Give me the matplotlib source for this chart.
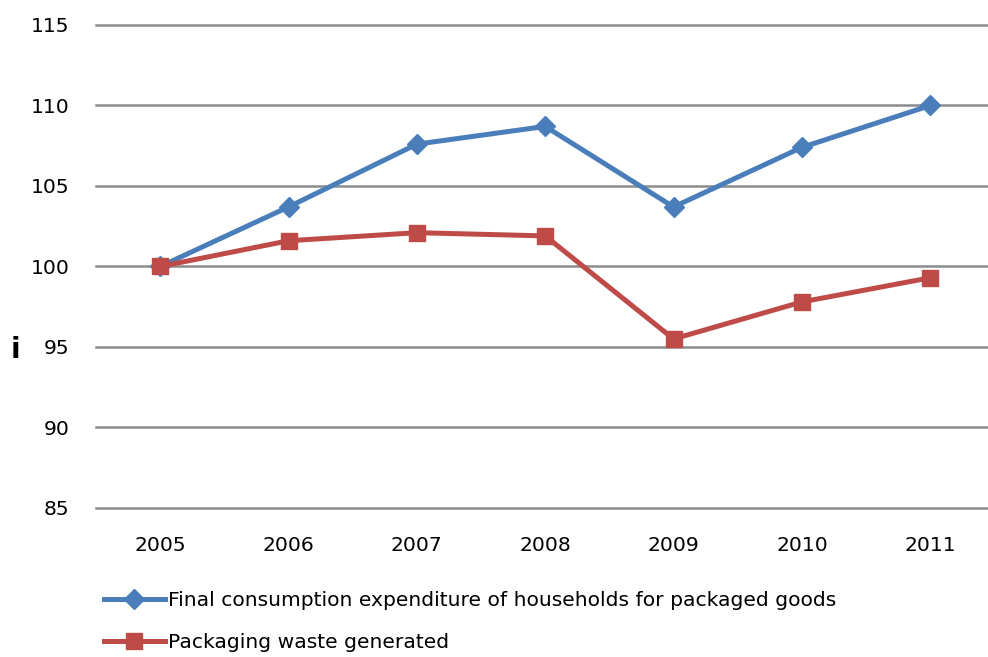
import matplotlib
matplotlib.use("Agg")
from matplotlib import pyplot as plt
from matplotlib.lines import Line2D

years = ["2005", "2006", "2007", "2008", "2009", "2010", "2011"]
consumption = [100.0, 103.7, 107.6, 108.7, 103.7, 107.4, 110.0]
packaging = [100.0, 101.6, 102.1, 101.9, 95.5, 97.8, 99.3]
y_ticks = [85, 90, 95, 100, 105, 110, 115]
label_cons = "Final consumption expenditure of households for packaged goods"
label_pack = "Packaging waste generated"

blue = "#4A7EBB"
red = "#BE4B48"
grid_col = "#8C8C8C"

plt.rcParams['font.family'] = ['DejaVu Sans']
fs = 14.6

fig = plt.figure(figsize=(9.88, 6.57), dpi=100)
ax = fig.add_axes([96 / 988, 1 - 508 / 657, 1 - 96 / 988, (508 - 25) / 657])

x = list(range(len(years)))
for t in y_ticks:
    ax.axhline(t, color=grid_col, lw=1.8, zorder=1, clip_on=False)

ax.plot(x, consumption, color=blue, lw=3.6, marker="D", ms=10, zorder=3)
ax.plot(x, packaging, color=red, lw=3.6, marker="s", ms=12, zorder=3)

ax.set_xlim(-0.5, 6.45)
ax.set_ylim(85, 115)
ax.set_yticks(y_ticks)
ax.set_yticklabels([str(t) for t in y_ticks], fontsize=fs)
ax.set_xticks(x)
ax.set_xticklabels(years, fontsize=fs)
ax.tick_params(length=0, axis="y", pad=19)
ax.tick_params(length=0, axis="x", pad=20)
for s in ax.spines.values():
    s.set_visible(False)

# stray axis title glyph
fig.text(15 / 988, 1 - 350 / 657, "i", fontsize=20, fontweight="bold",
         ha="center", va="center")

handles = [
    Line2D([], [], color=blue, lw=3.6, marker="D", ms=10),
    Line2D([], [], color=red, lw=3.6, marker="s", ms=12),
]
fig.legend(handles, [label_cons, label_pack], loc="upper left",
           bbox_to_anchor=(104 / 988, 1 - 591 / 657), frameon=False,
           fontsize=fs, handlelength=3.0, handletextpad=0.15,
           labelspacing=1.15, borderaxespad=0, borderpad=0)

fig.savefig("out.png", dpi=100)
